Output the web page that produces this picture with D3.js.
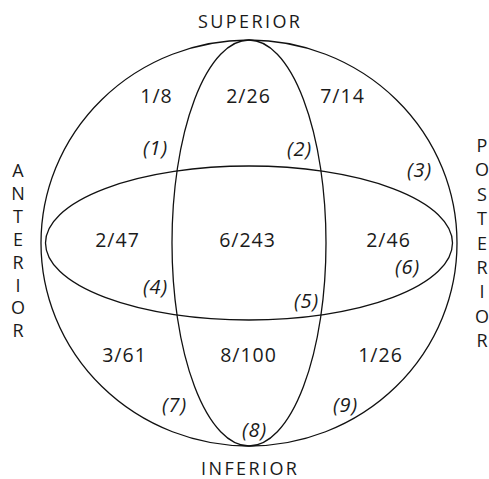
<!DOCTYPE html>
<html>
<head>
<meta charset="utf-8">
<script src="https://cdn.jsdelivr.net/npm/d3@7"></script>
<style>
  body { margin: 0; background: #fff; }
  svg { display: block; }
</style>
</head>
<body>
<div id="chart"></div>
<script>
// cell values: positives / total, read row by row (superior, middle, inferior)
const fractions = ["1/8", "2/26", "7/14", "2/47", "6/243", "2/46", "3/61", "8/100", "1/26"];
// region numbers
const regions = ["(1)", "(2)", "(3)", "(4)", "(5)", "(6)", "(7)", "(8)", "(9)"];
const anterior = "ANTERIOR".split("");
const posterior = "POSTERIOR".split("");

// layout, offsets from the sphere centre in px
const fracPos = [[-93, -140], [-1, -140], [93, -140],
                 [-132, 3.5], [-2, 3.5], [139, 3.5],
                 [-125, 119], [-1, 119], [131, 119]];
const regPos = [[-94, -88], [50, -87], [170, -66],
                [-94, 51], [57, 65], [158, 31],
                [-75, 169], [5, 194], [96, 169]];

const width = 489, height = 479;
const cx = 249, cy = 243;

const x = d3.scaleLinear().domain([-1, 1]).range([cx - 1, cx + 1]);
const y = d3.scaleLinear().domain([-1, 1]).range([cy - 1, cy + 1]);

const svg = d3.select("#chart").append("svg")
    .attr("width", width)
    .attr("height", height);

const g = svg.append("g");

// outer sphere and the two great-circle ellipses
const shapes = [
    { rx: 208, ry: 203 },
    { rx: 77, ry: 203 },
    { rx: 203.5, ry: 77 }
];
g.selectAll(".outline")
    .data(shapes).enter()
    .append("ellipse")
    .attr("class", "outline")
    .attr("cx", x(0))
    .attr("cy", y(0))
    .attr("rx", d => d.rx)
    .attr("ry", d => d.ry)
    .attr("fill", "none")
    .attr("stroke", "#111")
    .attr("stroke-width", 1.3);

g.selectAll(".frac")
    .data(fractions).enter()
    .append("text")
    .attr("class", "frac")
    .attr("x", (d, i) => x(fracPos[i][0]) + 0.5)
    .attr("y", (d, i) => y(fracPos[i][1]))
    .attr("text-anchor", "middle")
    .style("font-family", "Open Sans")
    .style("font-size", "19.5px")
    .style("letter-spacing", "1px")
    .style("fill", "#1a1a1a")
    .text(d => d);

g.selectAll(".reg")
    .data(regions).enter()
    .append("text")
    .attr("class", "reg")
    .attr("x", (d, i) => x(regPos[i][0]) + 0.5)
    .attr("y", (d, i) => y(regPos[i][1]))
    .attr("text-anchor", "middle")
    .style("font-family", "Open Sans")
    .style("font-style", "italic")
    .style("font-size", "20px")
    .style("letter-spacing", "0.8px")
    .style("fill", "#1a1a1a")
    .text(d => d);

const labelStyle = sel => sel
    .attr("text-anchor", "middle")
    .style("font-family", "Open Sans")
    .style("font-size", "18px")
    .style("fill", "#1a1a1a");

g.append("text")
    .attr("x", x(0) + 1.2)
    .attr("y", 28)
    .style("letter-spacing", "2.4px")
    .call(labelStyle)
    .text("SUPERIOR");

g.append("text")
    .attr("x", x(0) + 1.2)
    .attr("y", 475)
    .style("letter-spacing", "2.4px")
    .call(labelStyle)
    .text("INFERIOR");

g.selectAll(".ant")
    .data(anterior).enter()
    .append("text")
    .attr("class", "ant")
    .attr("x", 18)
    .attr("y", (d, i) => 177 + i * 22.9)
    .call(labelStyle)
    .text(d => d);

g.selectAll(".post")
    .data(posterior).enter()
    .append("text")
    .attr("class", "post")
    .attr("x", 482)
    .attr("y", (d, i) => 152 + i * 24.4)
    .call(labelStyle)
    .text(d => d);
</script>
</body>
</html>
